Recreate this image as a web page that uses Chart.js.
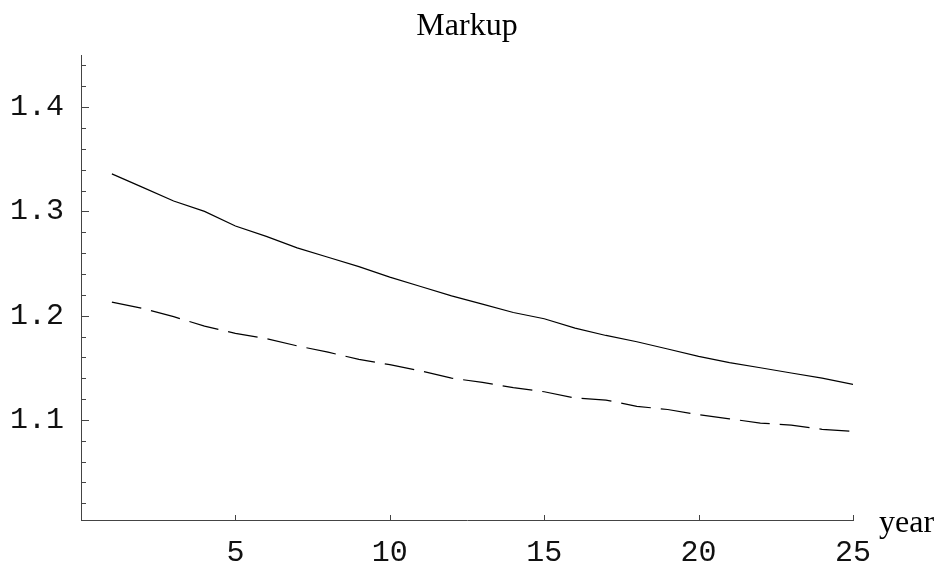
<!DOCTYPE html>
<html>
<head>
<meta charset="utf-8">
<script src="https://cdn.jsdelivr.net/npm/chart.js@4/dist/chart.umd.min.js"></script>
<style>
  html, body { margin: 0; padding: 0; background: #fff; }
  #wrap { width: 942px; height: 571px; }
</style>
</head>
<body>
<div id="wrap"><canvas id="markup-chart"></canvas></div>
<script>
var years = [1,2,3,4,5,6,7,8,9,10,11,12,13,14,15,16,17,18,19,20,21,22,23,24,25];
var markupSolid = [1.336,1.323,1.310,1.300,1.286,1.276,1.265,1.256,1.247,1.237,1.228,1.219,1.211,1.203,1.197,1.188,1.181,1.175,1.168,1.161,1.155,1.150,1.145,1.140,1.134];
var markupDashed = [1.213,1.207,1.199,1.190,1.183,1.178,1.171,1.165,1.158,1.153,1.147,1.140,1.136,1.131,1.127,1.121,1.119,1.113,1.110,1.105,1.101,1.097,1.095,1.091,1.089];
var xTicks = [5,10,15,20,25];
var yTicks = [1.1,1.2,1.3,1.4];
var yMinorTicks = [1.02,1.04,1.06,1.08,1.12,1.14,1.16,1.18,1.22,1.24,1.26,1.28,1.32,1.34,1.36,1.38,1.42,1.44];

var axisColor = "#444";

// title, axis label and ticks drawn inside the frame, like the original plot
var insideTicks = {
    id: "insideTicks",
    afterDraw: function(chart) {
        var ctx = chart.ctx;
        var xs = chart.scales.x, ys = chart.scales.y;
        var area = chart.chartArea;
        var left = area.left, bottom = area.bottom;
        ctx.save();
        ctx.strokeStyle = axisColor;
        ctx.lineWidth = 1;
        ctx.beginPath();
        yMinorTicks.forEach(function(v) {
            var p = Math.round(ys.getPixelForValue(v)) + 0.5;
            ctx.moveTo(left, p); ctx.lineTo(left + 5, p);
        });
        yTicks.forEach(function(v) {
            var p = Math.round(ys.getPixelForValue(v)) + 0.5;
            ctx.moveTo(left, p); ctx.lineTo(left + 8, p);
        });
        xTicks.forEach(function(v) {
            var p = Math.round(xs.getPixelForValue(v)) + 0.5;
            ctx.moveTo(p, bottom); ctx.lineTo(p, bottom - 5);
        });
        ctx.stroke();
        ctx.fillStyle = "#000";
        ctx.font = "32px 'Liberation Serif'";
        ctx.textBaseline = "alphabetic";
        ctx.textAlign = "center";
        ctx.fillText("Markup", (area.left + area.right) / 2, 35);
        ctx.textAlign = "left";
        ctx.fillText("year", area.right + 26, bottom + 12);
        ctx.restore();
    }
};

new Chart(document.getElementById("markup-chart"), {
    type: "line",
    data: {
        datasets: [{
            data: years.map((x, i) => ({ x: x, y: markupSolid[i] })),
            borderColor: "#000",
            borderWidth: 1.2,
            pointRadius: 0,
            tension: 0
        }, {
            data: years.map((x, i) => ({ x: x, y: markupDashed[i] })),
            borderColor: "#000",
            borderWidth: 1.2,
            borderDash: [30, 10],
            pointRadius: 0,
            tension: 0
        }]
    },
    options: {
        responsive: true,
        maintainAspectRatio: false,
        animation: false,
        layout: { padding: { left: 0, right: 89, top: 55, bottom: 0 } },
        plugins: {
            legend: { display: false },
            tooltip: { enabled: false },
            title: { display: false }
        },
        scales: {
            x: {
                type: "linear",
                min: 0,
                max: 25,
                grid: { display: false },
                border: { display: true, color: axisColor, width: 1 },
                afterBuildTicks: function(scale) { scale.ticks = xTicks.map(v => ({ value: v })); },
                afterFit: function(scale) { scale.height = 51; },
                ticks: {
                    color: "#111",
                    padding: 7,
                    maxRotation: 0,
                    font: { family: "'Liberation Mono'", size: 30 },
                    callback: v => String(v)
                }
            },
            y: {
                type: "linear",
                min: 1.004,
                max: 1.45,
                grid: { display: false },
                border: { display: true, color: axisColor, width: 1 },
                afterBuildTicks: function(scale) { scale.ticks = yTicks.map(v => ({ value: v })); },
                afterFit: function(scale) { scale.width = 81; },
                ticks: {
                    color: "#111",
                    padding: 9,
                    font: { family: "'Liberation Mono'", size: 30 },
                    callback: v => v.toFixed(1)
                }
            }
        }
    },
    plugins: [insideTicks]
});
</script>
</body>
</html>
